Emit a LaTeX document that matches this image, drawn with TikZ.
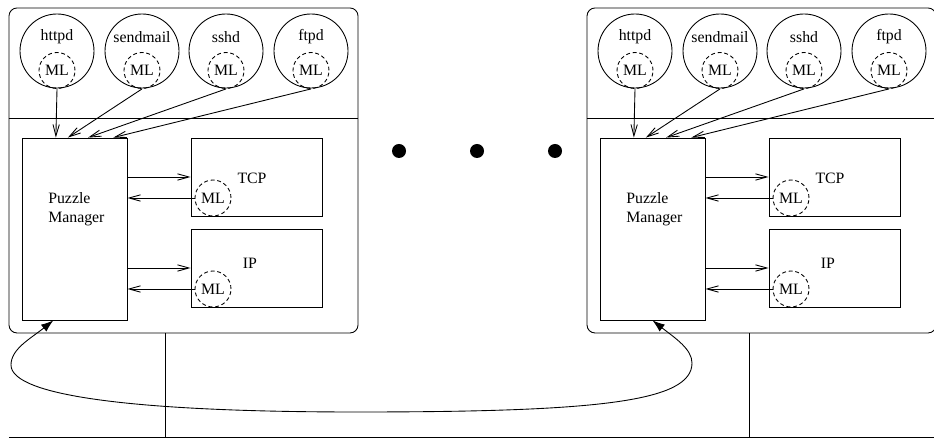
\documentclass[tikz,border=0pt]{standalone}
\usepackage{fontspec}
\setmainfont{Liberation Serif}
\usepackage{tikz}
\usetikzlibrary{positioning, arrows.meta, calc}

\tikzset{
  hostbox/.style={draw, rounded corners=0.16cm, minimum width=6.98cm, minimum height=6.5cm, inner sep=0pt},
  daemon/.style={draw, circle, minimum size=1.48cm, inner sep=0pt},
  mlring/.style={draw, circle, dashed, dash pattern=on 2.2pt off 1.6pt, minimum size=0.72cm, inner sep=0pt},
  layerbox/.style={draw, rectangle, minimum width=2.62cm, minimum height=1.56cm, inner sep=0pt},
  pmbox/.style={draw, rectangle, minimum width=2.1cm, minimum height=3.64cm, inner sep=0pt},
  arr/.style={-{Straight Barb[length=6.5pt,width=3.6pt]}},
  bigarr/.style={{Latex[length=7pt,width=5pt]}-{Latex[length=7pt,width=5pt]}}
}

\begin{document}
\begin{tikzpicture}[every node/.style={font=\fontsize{9}{10.5}\selectfont}, line width=0.5pt]
    \useasboundingbox (0,0) rectangle (18.68,8.78);

    % Network line
    \draw (0.18,0.04) -- (18.68,0.04);

    % Two hosts
    \foreach \h/\dx/\lx in {A/0/3.3, B/11.56/3.42} {
      \begin{scope}[xshift=\dx cm]
        \node[hostbox] (host\h) at (3.67,5.37) {};
        \draw (host\h.west |- 0,6.42) -- (host\h.east |- 0,6.42);
        \draw (host\h.south -| \lx,0) -- (\lx,0.04);

        % Kernel side
        \node[pmbox] (pm\h) at (1.49,4.2) {};
        \node[anchor=west, align=left] (pmtext\h) at (0.84,4.6) {Puzzle\\Manager};
        \node[layerbox] (tcp\h) at (5.13,5.24) {};
        \node (tcptext\h) at (5.04,5.22) {TCP};
        \node[mlring] (mltcp\h) at (4.26,4.82) {ML};
        \node[layerbox] (ip\h) at (5.13,3.42) {};
        \node (iptext\h) at (5.0,3.52) {IP};
        \node[mlring] (mlip\h) at (4.26,3.0) {ML};

        \draw[arr] (pm\h.east |- 0,5.24) -- (tcp\h.west |- 0,5.24);
        \draw[arr] (mltcp\h.west) -- (pm\h.east |- mltcp\h.west);
        \draw[arr] (pm\h.east |- 0,3.42) -- (ip\h.west |- 0,3.42);
        \draw[arr] (mlip\h.west) -- (pm\h.east |- mlip\h.west);

        % User-space daemons
        \foreach \d/\x/\f in {httpd/1.14/0.324, sendmail/2.84/0.438, sshd/4.52/0.629, ftpd/6.22/0.867} {
          \node[daemon] (\d\h) at (\x,7.76) {};
          \node (\d text\h) at ([yshift=0.28cm]\d\h.center) {\d};
          \node[mlring] (ml\d\h) at ([yshift=-0.39cm]\d\h.center) {ML};
          \coordinate (in\d\h) at ($(pm\h.north west)!\f!(pm\h.north east)$);
          \draw[arr] (ml\d\h.south) -- (in\d\h);
        }
      \end{scope}
    }

    % Dots between hosts
    \foreach \x in {7.98, 9.54, 11.1} {
      \fill (\x,5.76) circle (0.14);
    }

    % Puzzle exchange between managers
    \coordinate (tipA) at ($(pmA.south west)!0.3!(pmA.south east)$);
    \coordinate (tipB) at (pmB.south);
    \draw[bigarr] (tipA) .. controls (0.6,2.0) and (0.22,1.8) .. (0.22,1.48)
      .. controls (0.22,0.85) and (2.8,0.54) .. (7.14,0.54)
      .. controls (12,0.54) and (13.84,0.75) .. (13.84,1.52)
      .. controls (13.84,1.8) and (13.5,2.02) .. (tipB);
\end{tikzpicture}
\end{document}
